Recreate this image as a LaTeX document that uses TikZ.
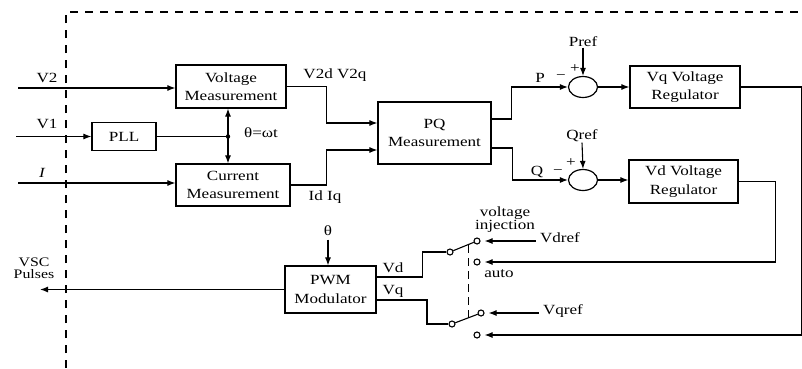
\documentclass[tikz,border=0pt]{standalone}
\usepackage{fontspec}
\setmainfont{Liberation Serif}[FakeStretch=1.22]
\usetikzlibrary{arrows.meta,shapes.geometric}
\begin{document}
\begin{tikzpicture}[x=1pt,y=-1pt,
  line width=1.1pt,
  every node/.style={font=\fontsize{14}{18.5}\selectfont, inner sep=0pt},
  blk/.style={draw, rectangle, align=center, line width=1.2pt},
  arr/.style={-{Latex[length=8pt,width=6pt]}},
  sumj/.style={draw, ellipse, minimum width=29pt, minimum height=21pt, line width=1.2pt},
  term/.style={draw, circle, minimum size=6pt, fill=white, line width=1.1pt},
  sgn/.style={font=\fontsize{14}{14}\selectfont},
  bord/.style={dash pattern=on 8pt off 7pt, line width=1.1pt}
]
\useasboundingbox (0,0) rectangle (802,368);

% dashed border
\draw[bord] (66,368) -- (66,12) -- (802,12);

% blocks
\node[blk, minimum width=110pt, minimum height=43pt] (VM) at (231,86.5) {Voltage\\Measurement};
\node[blk, minimum width=64pt, minimum height=28pt] (PLL) at (124,136.5) {PLL};
\node[blk, minimum width=114pt, minimum height=42pt] (CM) at (233,185) {Current\\Measurement};
\node[blk, minimum width=113pt, minimum height=62pt] (PQ) at (434.5,133) {PQ\\Measurement};
\node[blk, minimum width=110pt, minimum height=42pt] (VqR) at (685,87) {Vq Voltage\\Regulator};
\node[blk, minimum width=109pt, minimum height=43pt] (VdR) at (683.5,181.5) {Vd Voltage\\Regulator};
\node[blk, minimum width=91pt, minimum height=47pt] (PWM) at (330.5,289.5) {PWM\\Modulator};
\node[sumj] (S1) at (583,87) {};
\node[sumj] (S2) at (583,180) {};

% labels
\node (lV2) at (47,78) {V2};
\node (lV1) at (47,124) {V1};
\node (lI) at (42,173) {\itshape I};
\node (lV2d) at (335,75) {V2d V2q};
\node (lId) at (325,197) {Id Iq};
\node (lth) at (261,133) {θ=ωt};
\node (thP) at (328,231) {θ};
\node (lVd) at (393,268) {Vd};
\node (lVq) at (393,291) {Vq};
\node (lP) at (540,78) {P};
\node[sgn] (mP) at (561,77) {−};
\node[sgn] (pP) at (575,69) {+};
\node (Pref) at (583,42) {Pref};
\node (lQ) at (537,172) {Q};
\node[sgn] (mQ) at (558,172) {−};
\node[sgn] (pQ) at (571,163) {+};
\node (Qref) at (582,136) {Qref};
\node[align=center, font=\fontsize{14}{13}\selectfont] (vinj) at (505,220) {voltage\\injection};
\node (Vdref) at (560,238) {Vdref};
\node (auto) at (499,274) {auto};
\node (Vqref) at (563,311) {Vqref};
\node[align=center, font=\fontsize{13}{12}\selectfont] (vsc) at (34,268) {VSC\\Pulses};

% switch terminals
\node[term] (tA) at (477,241) {};
\node[term] (tB) at (477,262) {};
\node[term] (pA) at (450,252) {};
\node[term] (tC) at (481,313) {};
\node[term] (tD) at (477,335) {};
\node[term] (pB) at (452,324) {};

% coordinates
\coordinate (inV2) at (18,88);
\coordinate (inV1) at (16,136.5);
\coordinate (inI) at (18,183);
\coordinate (jn) at (228,136.5);
\coordinate (oVd) at (376,277);
\coordinate (oVq) at (376,300);
\coordinate (vscEnd) at (40,289.5);
\coordinate (l1) at (468,245);
\coordinate (l2) at (468,318);

% inputs
\draw[arr] (inV2) -- (inV2 -| VM.west);
\draw[arr] (inV1) -- (PLL.west);
\draw[arr] (inI) -- (inI -| CM.west);

% PLL and theta
\draw (PLL.east) -- (jn);
\fill (jn) circle (2.2pt);
\draw[arr] (jn) -- (jn |- VM.south);
\draw[arr] (jn) -- (jn |- CM.north);

% measurements to PQ
\draw[arr] (VM.east) -- ++(40,0) |- ([yshift=10pt]PQ.west);
\draw[arr] (CM.east) -- ++(36,0) |- ([yshift=-17pt]PQ.west);

% PQ to summing junctions
\draw[arr] ([yshift=14pt]PQ.east) -- ++(20,0) |- (S1.west);
\draw[arr] ([yshift=-15pt]PQ.east) -- ++(21,0) |- (S2.west);
\draw[arr] (Pref.south) -- (S1.north);
\draw[arr] (Qref.south) -- (S2.north);
\draw[arr] (S1.east) -- (VqR.west);
\draw[arr] (S2.east) -- (S2.east -| VdR.west);

% regulator outputs back to switches
\draw[arr, shorten >=4pt] (VdR.east) -- ++(37,0) |- (tB);
\draw[arr, shorten >=4pt] (VqR.east) -- ++(61,0) |- (tD);
\draw[arr, shorten >=4pt] ([xshift=-4pt]tA -| Vdref.west) -- (tA);
\draw[arr, shorten >=4pt] ([xshift=-4pt]tC -| Vqref.west) -- (tC);

% switches
\draw (pA) -- (tA);
\draw (pB) -- (tC);
\draw[dash pattern=on 8pt off 5pt, line width=0.9pt] (l1) -- (l2);
\draw (pA.west) -- ++(-24,0) |- (oVd);
\draw (pB.west) -- ++(-21.5,0) |- (oVq);

% PWM
\draw[arr, shorten <=3pt] (thP.south) -- (thP.south |- PWM.north);
\draw[arr] (PWM.west) -- (vscEnd);
\end{tikzpicture}
\end{document}
